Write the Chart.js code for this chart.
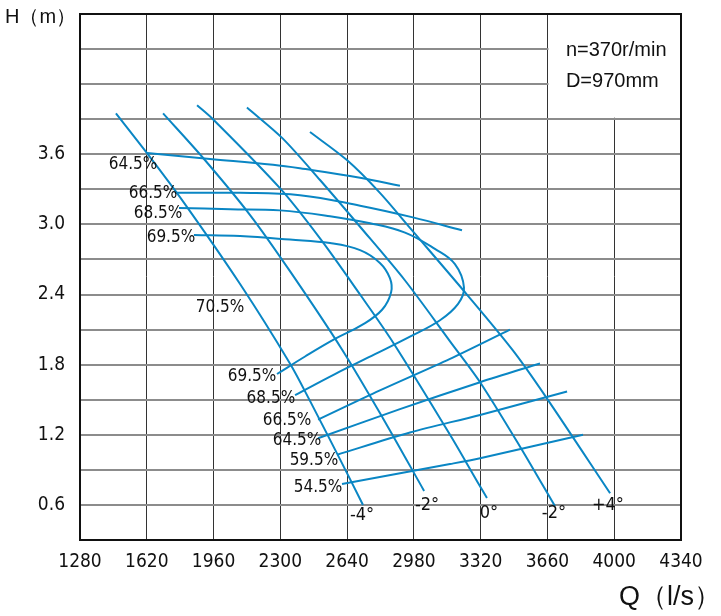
<!DOCTYPE html>
<html>
<head>
<meta charset="utf-8">
<style>
    html, body { margin: 0; padding: 0; background: #fff; }
    #chart { display: block; }
</style>
<script src="https://cdn.jsdelivr.net/npm/chart.js@4"></script>
</head>
<body>
<canvas id="chart" width="721" height="616"></canvas>
<script>
// axis ranges (Q in l/s, H in m)
const qMin = 1280;
const qMax = 4340;
const qStep = 340;
const hMin = 0.3;
const hMax = 4.8;
const hStep = 0.3;

// blade angle lines
const bladeM4Q = [1463, 1621, 1799, 2095, 2349, 2451, 2604, 2721];
const bladeM4H = [3.95, 3.61, 3.21, 2.49, 1.81, 1.49, 0.99, 0.60];
const bladeM2Q = [1703, 1906, 2146, 2349, 2614, 2823, 3032];
const bladeM2H = [3.95, 3.57, 3.08, 2.60, 1.93, 1.34, 0.72];
const blade0Q = [1876, 1957, 2298, 2502, 2706, 2874, 3164, 3306, 3352];
const blade0H = [4.02, 3.90, 3.31, 2.88, 2.40, 1.99, 1.20, 0.79, 0.66];
const bladeP2Q = [2130, 2309, 2502, 2706, 2935, 3164, 3317, 3520, 3698];
const bladeP2H = [4.00, 3.74, 3.38, 2.98, 2.52, 2.00, 1.65, 1.10, 0.59];
const bladeP4Q = [2451, 2639, 2807, 2960, 3250, 3485, 3658, 3979];
const bladeP4H = [3.79, 3.55, 3.27, 2.97, 2.40, 1.92, 1.51, 0.70];

// efficiency lines, upper branches
const eff645UpQ = [1621, 1942, 2263, 2400, 2706, 2909];
const eff645UpH = [3.61, 3.56, 3.51, 3.48, 3.40, 3.33];
const eff665UpQ = [1764, 2095, 2400, 2706, 2975, 3225];
const eff665UpH = [3.27, 3.27, 3.25, 3.16, 3.06, 2.95];
// 68.5 and 69.5 close round into their lower branches
const eff685Q = [1784, 2044, 2298, 2553, 2757, 2935, 3087, 3189, 3235, 3205, 3113, 2960, 2782, 2578, 2375];
const eff685H = [3.14, 3.13, 3.12, 3.07, 3.01, 2.93, 2.79, 2.66, 2.46, 2.32, 2.18, 2.04, 1.89, 1.72, 1.54];
const eff695Q = [1860, 2095, 2349, 2553, 2706, 2807, 2858, 2864, 2818, 2716, 2578, 2426, 2283];
const eff695H = [2.91, 2.90, 2.87, 2.84, 2.78, 2.67, 2.54, 2.42, 2.27, 2.14, 2.02, 1.87, 1.72];

// efficiency lines, lower branches
const eff665LoQ = [2492, 2807, 3164, 3469];
const eff665LoH = [1.33, 1.58, 1.85, 2.10];
const eff645LoQ = [2492, 2909, 3317, 3622];
const eff645LoH = [1.17, 1.42, 1.65, 1.81];
const eff595Q = [2589, 2960, 3317, 3760];
const eff595H = [1.03, 1.22, 1.37, 1.57];
const eff545Q = [2614, 3164, 3317, 3841];
const eff545H = [0.78, 0.95, 1.00, 1.20];

// curve labels: text, Q, H
const effLabelText = ['64.5%', '66.5%', '68.5%', '69.5%', '70.5%', '69.5%', '68.5%', '66.5%', '64.5%', '59.5%', '54.5%'];
const effLabelQ = [1550, 1652, 1677, 1743, 1993, 2156, 2252, 2334, 2385, 2471, 2492];
const effLabelH = [3.51, 3.26, 3.09, 2.89, 2.29, 1.70, 1.51, 1.32, 1.15, 0.98, 0.75];
const angleLabelText = ['-4°', '-2°', '0°', '-2°', '+4°'];
const angleLabelQ = [2716, 3047, 3362, 3693, 3968];
const angleLabelH = [0.51, 0.60, 0.53, 0.53, 0.60];

const infoText = ['n=370r/min', 'D=970mm'];
const infoQ = 3754;
const infoH = [4.49, 4.22];
const infoBoxQ = [3660, 4340];
const infoBoxH = [3.9, 4.8];

const BLUE = '#0a86c4';
const NARROW = "'Liberation Sans Narrow', 'DejaVu Sans Condensed', 'Liberation Sans', sans-serif";
const REGULAR = "'Liberation Sans', Arial, sans-serif";

function toPoints(qs, hs) {
    return qs.map((q, i) => ({ x: q, y: hs[i] }));
}

function curve(qs, hs, tension) {
    return {
        data: toPoints(qs, hs),
        showLine: true,
        borderColor: BLUE,
        borderWidth: 2,
        pointRadius: 0,
        tension: tension,
        fill: false,
    };
}

const overlay = {
    id: 'overlay',
    beforeDatasetsDraw(chart) {
        const { ctx, scales: { x, y } } = chart;
        // blank box behind the speed / diameter note
        const left = x.getPixelForValue(infoBoxQ[0]) + 1;
        const right = x.getPixelForValue(infoBoxQ[1]);
        const top = y.getPixelForValue(infoBoxH[1]);
        const bottom = y.getPixelForValue(infoBoxH[0]) - 1.5;
        ctx.save();
        ctx.fillStyle = '#fff';
        ctx.fillRect(left, top, right - left, bottom - top);
        ctx.restore();
    },
    afterDraw(chart) {
        const { ctx, chartArea, scales: { x, y } } = chart;
        ctx.save();

        ctx.strokeStyle = '#111';
        ctx.lineWidth = 2;
        ctx.strokeRect(chartArea.left, chartArea.top, chartArea.right - chartArea.left, chartArea.bottom - chartArea.top);

        ctx.fillStyle = '#111';
        ctx.textAlign = 'center';
        ctx.textBaseline = 'middle';
        ctx.font = `17px ${NARROW}`;
        effLabelText.forEach((t, i) => {
            ctx.fillText(t, x.getPixelForValue(effLabelQ[i]), y.getPixelForValue(effLabelH[i]));
        });
        ctx.font = `18px ${NARROW}`;
        angleLabelText.forEach((t, i) => {
            ctx.fillText(t, x.getPixelForValue(angleLabelQ[i]), y.getPixelForValue(angleLabelH[i]));
        });

        ctx.textAlign = 'left';
        ctx.font = `20px ${REGULAR}`;
        infoText.forEach((t, i) => {
            ctx.fillText(t, x.getPixelForValue(infoQ), y.getPixelForValue(infoH[i]));
        });

        ctx.font = `20px ${REGULAR}`;
        ctx.fillText('H（m）', 5, 17);
        ctx.font = `27px ${REGULAR}`;
        ctx.textAlign = 'right';
        ctx.fillText('Q（l/s）', 721, 598);
        ctx.restore();
    },
};

new Chart(document.getElementById('chart'), {
    type: 'scatter',
    data: {
        datasets: [
            curve(bladeM4Q, bladeM4H, 0.3),
            curve(bladeM2Q, bladeM2H, 0.3),
            curve(blade0Q, blade0H, 0.3),
            curve(bladeP2Q, bladeP2H, 0.3),
            curve(bladeP4Q, bladeP4H, 0.3),
            curve(eff645UpQ, eff645UpH, 0.4),
            curve(eff665UpQ, eff665UpH, 0.4),
            curve(eff685Q, eff685H, 0.4),
            curve(eff695Q, eff695H, 0.4),
            curve(eff665LoQ, eff665LoH, 0.3),
            curve(eff645LoQ, eff645LoH, 0.3),
            curve(eff595Q, eff595H, 0.3),
            curve(eff545Q, eff545H, 0.3),
        ],
    },
    options: {
        responsive: false,
        animation: false,
        layout: { padding: { left: 0, right: 40, top: 14, bottom: 0 } },
        plugins: {
            legend: { display: false },
            tooltip: { enabled: false },
        },
        scales: {
            x: {
                type: 'linear',
                min: qMin,
                max: qMax,
                afterFit: (scale) => {
                    scale.height = 76;
                    scale.paddingLeft = 0;
                    scale.paddingRight = 0;
                },
                ticks: {
                    stepSize: qStep,
                    color: '#111',
                    padding: 11,
                    maxRotation: 0,
                    font: { family: NARROW, size: 19 },
                    callback: (v) => String(v),
                },
                grid: { color: '#333', lineWidth: 1, drawTicks: false },
                border: { color: '#111', width: 2 },
            },
            y: {
                type: 'linear',
                min: hMin,
                max: hMax,
                afterFit: (scale) => {
                    scale.width = 80;
                    scale.paddingTop = 0;
                    scale.paddingBottom = 0;
                },
                ticks: {
                    stepSize: hStep,
                    color: '#111',
                    padding: 15,
                    font: { family: NARROW, size: 19 },
                    callback: (v) => {
                        const t = Math.round(v * 10);
                        return t % 6 === 0 && t > 0 && t <= 36 ? (t / 10).toFixed(1) : '';
                    },
                },
                grid: { color: '#8c8c8c', lineWidth: 2, drawTicks: false },
                border: { color: '#111', width: 2 },
            },
        },
    },
    plugins: [overlay],
});
</script>
</body>
</html>
